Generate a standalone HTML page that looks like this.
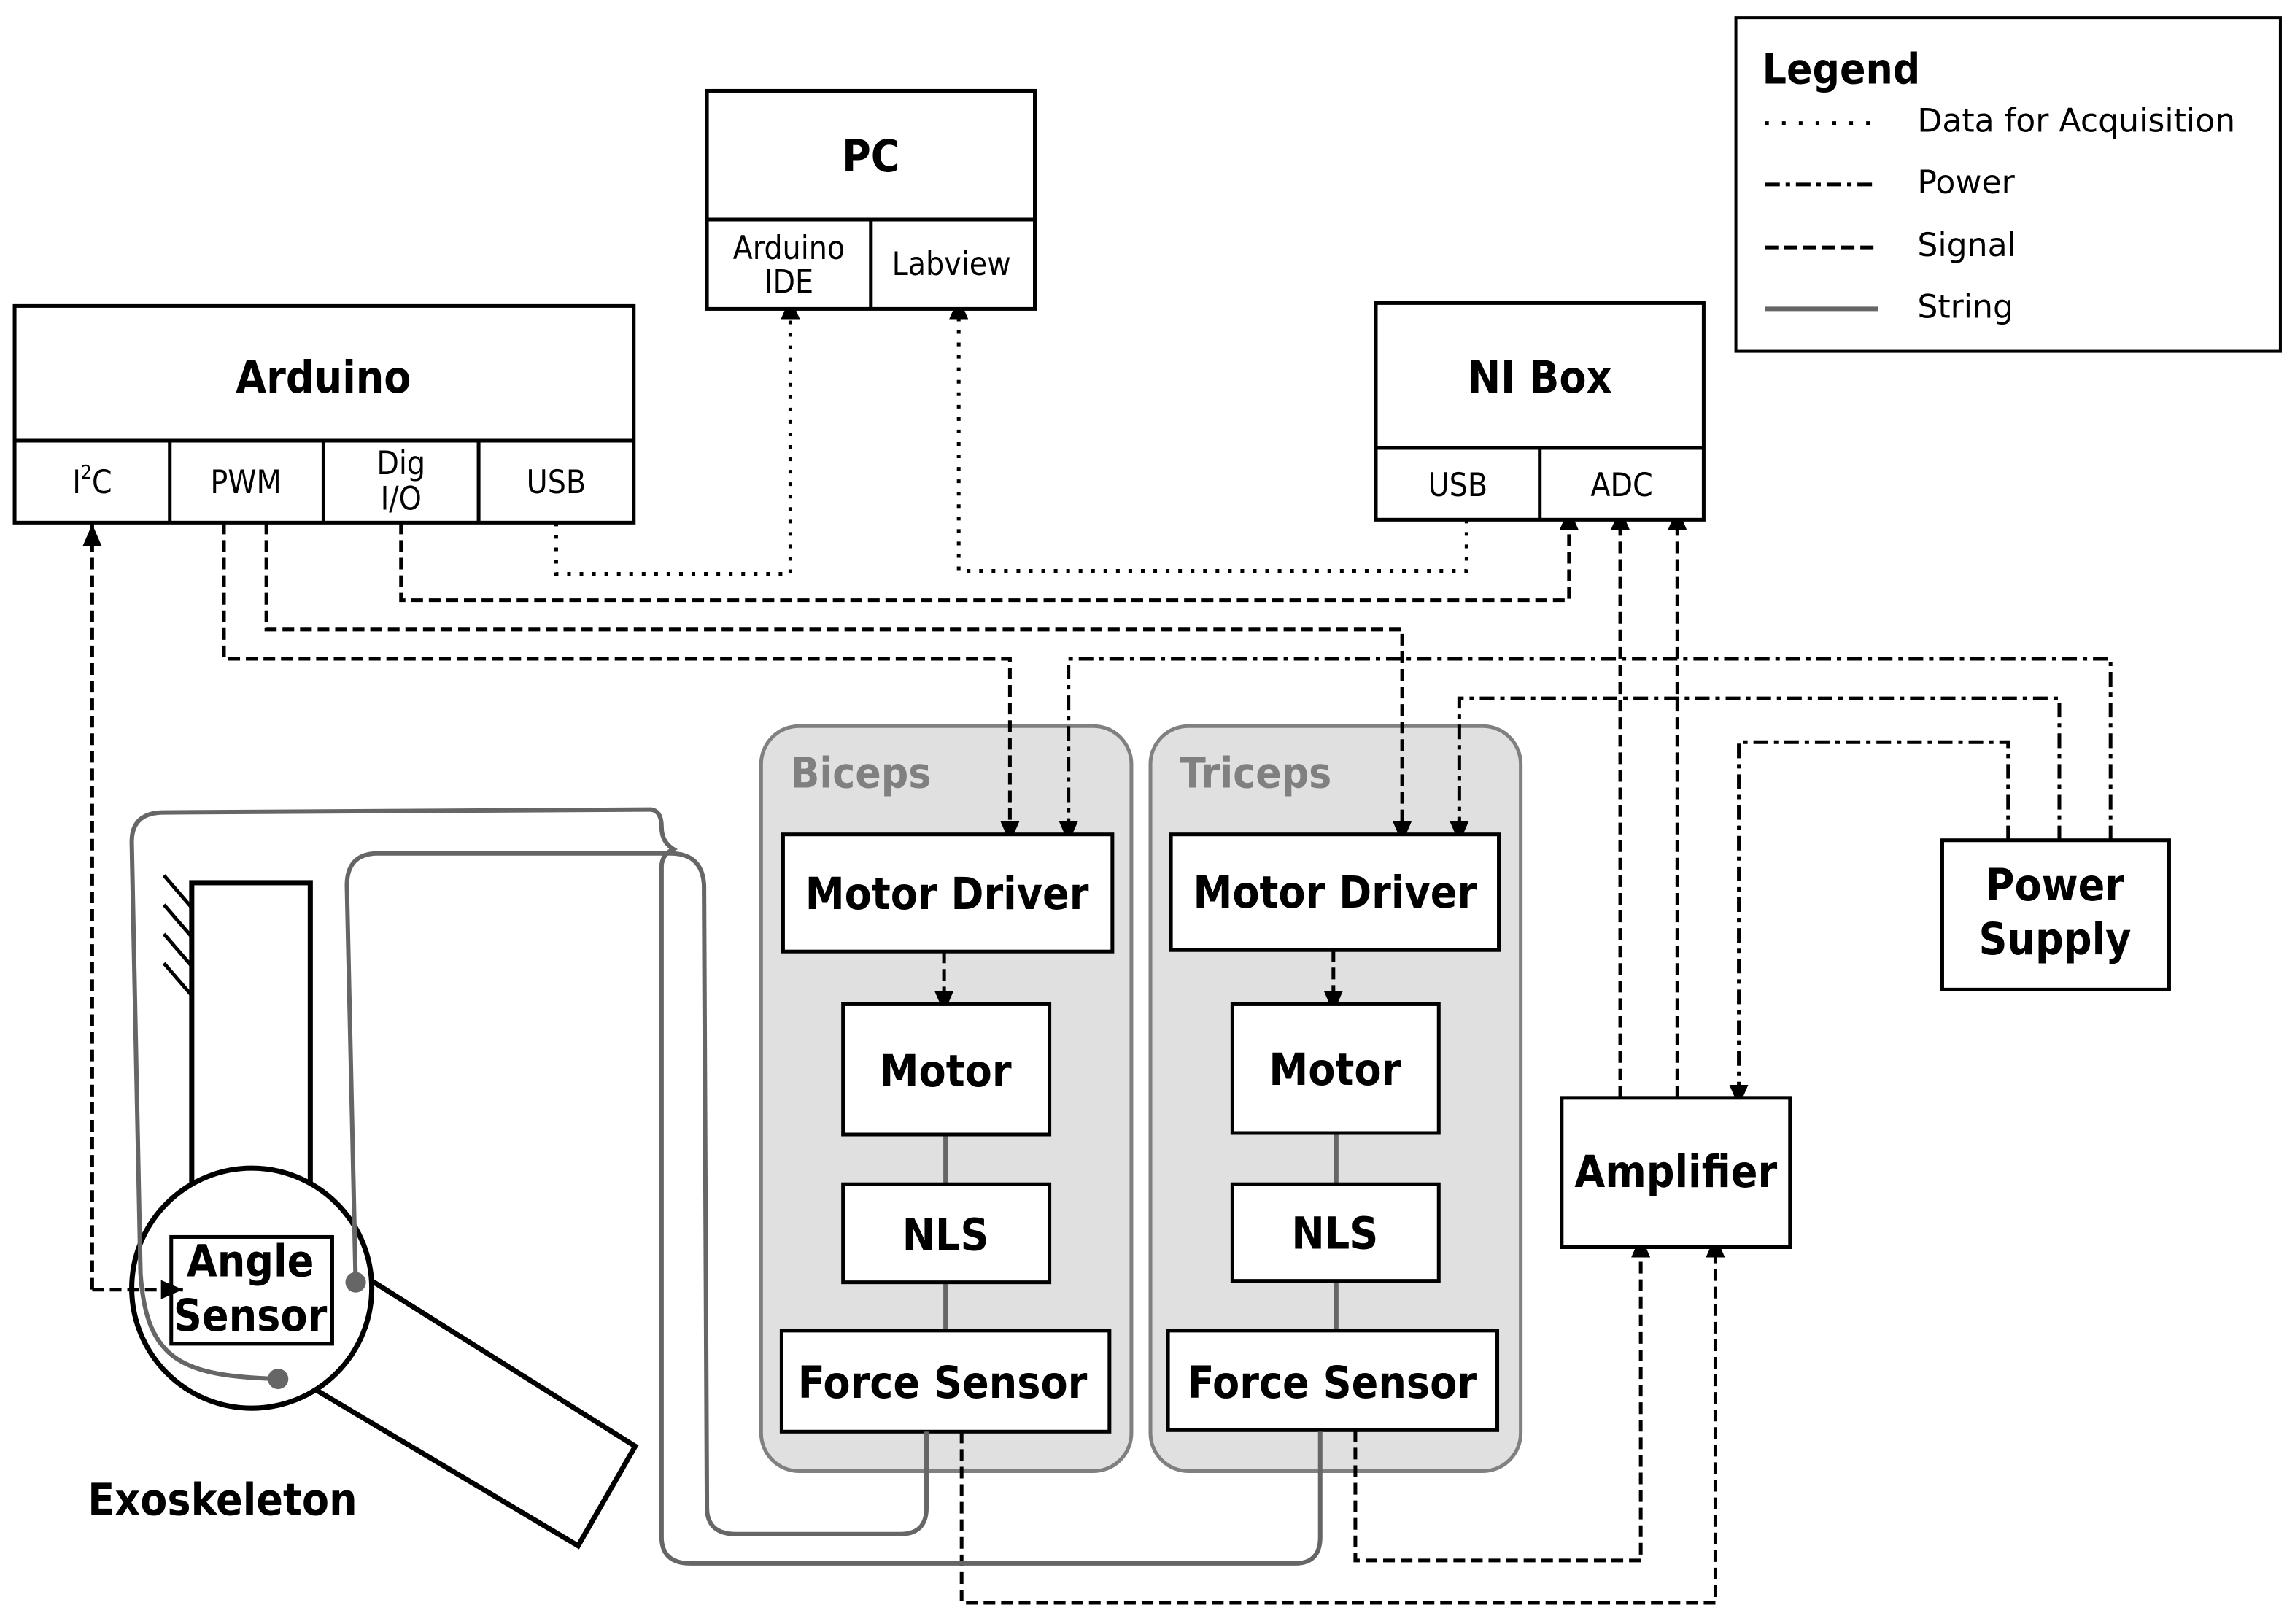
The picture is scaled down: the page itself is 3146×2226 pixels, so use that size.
<!DOCTYPE html>
<html><head><meta charset="utf-8">
<style>html,body{margin:0;padding:0;background:#fff}svg{display:block}
text{font-family:"DejaVu Sans Condensed","DejaVu Sans","Liberation Sans",sans-serif}
.w{font-family:"DejaVu Sans","Liberation Sans",sans-serif}
</style></head><body>
<svg xmlns="http://www.w3.org/2000/svg" width="3146" height="2226" viewBox="0 0 1568 1109.4">
<defs>
<marker id="a" markerUnits="userSpaceOnUse" markerWidth="20" markerHeight="20" refX="15" refY="6.5" orient="auto"><path d="M0,0 L15,6.5 L0,13 z" fill="#000"/></marker>
</defs>
<rect width="1568" height="1110" fill="#fff"/>
<g fill="none" stroke="#000" stroke-width="2.5">
<rect x="520" y="496" width="253" height="509" rx="26" fill="#e0e0e0" stroke="#808080" stroke-width="2.5"/>
<rect x="786" y="496" width="253" height="509" rx="26" fill="#e0e0e0" stroke="#808080" stroke-width="2.5"/>
</g>
<g font-size="29" fill="#808080" font-weight="bold">
<text x="540" y="538">Biceps</text><text x="806" y="538">Triceps</text></g>

<g stroke="#666" stroke-width="3" fill="none">
<line x1="646" y1="775" x2="646" y2="809"/><line x1="646" y1="876" x2="646" y2="909"/>
<line x1="913" y1="774" x2="913" y2="809"/><line x1="913" y1="875" x2="913" y2="909"/>
</g>

<g fill="none" stroke="#000" stroke-width="2.5" stroke-dasharray="8 4">
<path d="M63,881 L63,358" marker-end="url(#a)"/>
<path d="M153,357 L153,450 L690,450 L690,576" marker-end="url(#a)"/>
<path d="M182,357 L182,430 L958,430 L958,576" marker-end="url(#a)"/>
<path d="M274,357 L274,410 L1072,410 L1072,347" marker-end="url(#a)"/>
<path d="M1107,750 L1107,347" marker-end="url(#a)"/>
<path d="M1146,750 L1146,347" marker-end="url(#a)"/>
<path d="M657,978 L657,1095 L1172,1095 L1172,844" marker-end="url(#a)"/>
<path d="M926,977 L926,1066 L1121,1066 L1121,844" marker-end="url(#a)"/>
<path d="M645,650 L645,692" marker-end="url(#a)"/>
<path d="M911,649 L911,692" marker-end="url(#a)"/>
</g>
<g fill="none" stroke="#000" stroke-width="2.5" stroke-dasharray="10 4 3 4">
<path d="M1442,574 L1442,450 L730,450 L730,576" marker-end="url(#a)"/>
<path d="M1407,574 L1407,477 L997,477 L997,576" marker-end="url(#a)"/>
<path d="M1372,574 L1372,507 L1188,507 L1188,756" marker-end="url(#a)"/>
</g>
<g fill="none" stroke="#000" stroke-width="2.5" stroke-dasharray="2.5 6">
<path d="M380,357 L380,392 L540,392 L540,203" marker-end="url(#a)"/>
<path d="M1002,355 L1002,390 L655,390 L655,203" marker-end="url(#a)"/>
</g>

<g fill="#fff" stroke="#000" stroke-width="2.5">
<rect x="10" y="209" width="423" height="148"/>
<line x1="10" y1="301" x2="433" y2="301"/><line x1="116" y1="301" x2="116" y2="357"/><line x1="221" y1="301" x2="221" y2="357"/><line x1="327" y1="301" x2="327" y2="357"/>
<rect x="483" y="62" width="224" height="149"/>
<line x1="483" y1="150" x2="707" y2="150"/><line x1="595" y1="150" x2="595" y2="211"/>
<rect x="940" y="207" width="224" height="148"/>
<line x1="940" y1="306" x2="1164" y2="306"/><line x1="1052" y1="306" x2="1052" y2="355"/>
<rect x="1186" y="12" width="372" height="228" stroke-width="2"/>
<rect x="535" y="570" width="225" height="80"/>
<rect x="576" y="686" width="141" height="89"/>
<rect x="576" y="809" width="141" height="67"/>
<rect x="534" y="909" width="224" height="69"/>
<rect x="800" y="570" width="224" height="79"/>
<rect x="842" y="686" width="141" height="88"/>
<rect x="842" y="809" width="141" height="66"/>
<rect x="798" y="909" width="225" height="68"/>
<rect x="1327" y="574" width="155" height="102"/>
<rect x="1067" y="750" width="156" height="102"/>
</g>
<g stroke="#000" stroke-width="3.5" fill="#fff">
<polygon points="246,870 434,988 395,1056 210,946"/>
<rect x="131" y="603" width="81" height="220"/>
<circle cx="172" cy="880" r="82"/>
<rect x="117" y="845" width="110" height="73" stroke-width="2.5"/>
<g stroke-width="2.5"><line x1="112" y1="598" x2="131" y2="620"/><line x1="112" y1="618" x2="131" y2="640"/><line x1="112" y1="638" x2="131" y2="660"/><line x1="112" y1="658" x2="131" y2="680"/></g>
</g>
<path d="M63,881 L125,881" fill="none" stroke="#000" stroke-width="2.5" stroke-dasharray="8 4" marker-end="url(#a)"/>
<g stroke="#666" stroke-width="3" fill="none">
<path d="M243,876 L237,605 Q237,583 258,583 L458,583 Q480,583 481,605 L483,1030 Q483,1048 503,1048 L615,1048 Q633,1048 633,1030 L633,978"/>
<path d="M190,942 C125,940 100,930 96,870 L90,575 Q90,555 112,555 L445,553 Q452,554 452,565 Q452,575 460,580 Q452,584 452,592 L452,1050 Q452,1068 472,1068 L885,1068 Q902,1068 902,1050 L902,978"/>
</g>
<circle cx="243" cy="876" r="7" fill="#666"/><circle cx="190" cy="942" r="7" fill="#666"/>

<g font-weight="bold" text-anchor="middle" font-size="30" fill="#000">
<text x="221" y="268">Arduino</text>
<text x="595" y="117">PC</text>
<text x="1052" y="268">NI Box</text>
<text x="647" y="621">Motor Driver</text>
<text x="646" y="742">Motor</text>
<text x="646" y="854">NLS</text>
<text x="644" y="955">Force Sensor</text>
<text x="912" y="620">Motor Driver</text>
<text x="912" y="741">Motor</text>
<text x="912" y="853">NLS</text>
<text x="910" y="955">Force Sensor</text>
<text x="1404" y="615">Power</text><text x="1404" y="652">Supply</text>
<text x="1145" y="811">Amplifier</text>
<text x="171" y="872">Angle</text><text x="171" y="909">Sensor</text>
<text x="152" y="1035">Exoskeleton</text>
</g>
<g text-anchor="middle" font-size="22" fill="#000">
<text x="63" y="337">I<tspan font-size="13" dy="-10">2</tspan><tspan dy="10">C</tspan></text>
<text x="168" y="337">PWM</text>
<text x="274" y="324">Dig</text><text x="274" y="348">I/O</text>
<text x="380" y="337">USB</text>
<text x="539" y="177">Arduino</text><text x="539" y="200">IDE</text>
<text x="650" y="188">Labview</text>
<text x="996" y="339">USB</text>
<text x="1108" y="339">ADC</text>
</g>
<text x="1204" y="57" font-size="29" font-weight="bold">Legend</text>
<g font-size="22" class="w"><text class="w" x="1310" y="90">Data for Acquisition</text><text class="w" x="1310" y="132">Power</text><text class="w" x="1310" y="175">Signal</text><text class="w" x="1310" y="217">String</text></g>
<g stroke-width="2.5" fill="none">
<line x1="1206" y1="84" x2="1283" y2="84" stroke="#000" stroke-dasharray="2.5 9"/>
<line x1="1206" y1="126" x2="1283" y2="126" stroke="#000" stroke-dasharray="10 4 3 4"/>
<line x1="1206" y1="169" x2="1283" y2="169" stroke="#000" stroke-dasharray="9 4"/>
<line x1="1206" y1="211" x2="1283" y2="211" stroke="#666" stroke-width="3"/>
</g>
</svg>
</body></html>
